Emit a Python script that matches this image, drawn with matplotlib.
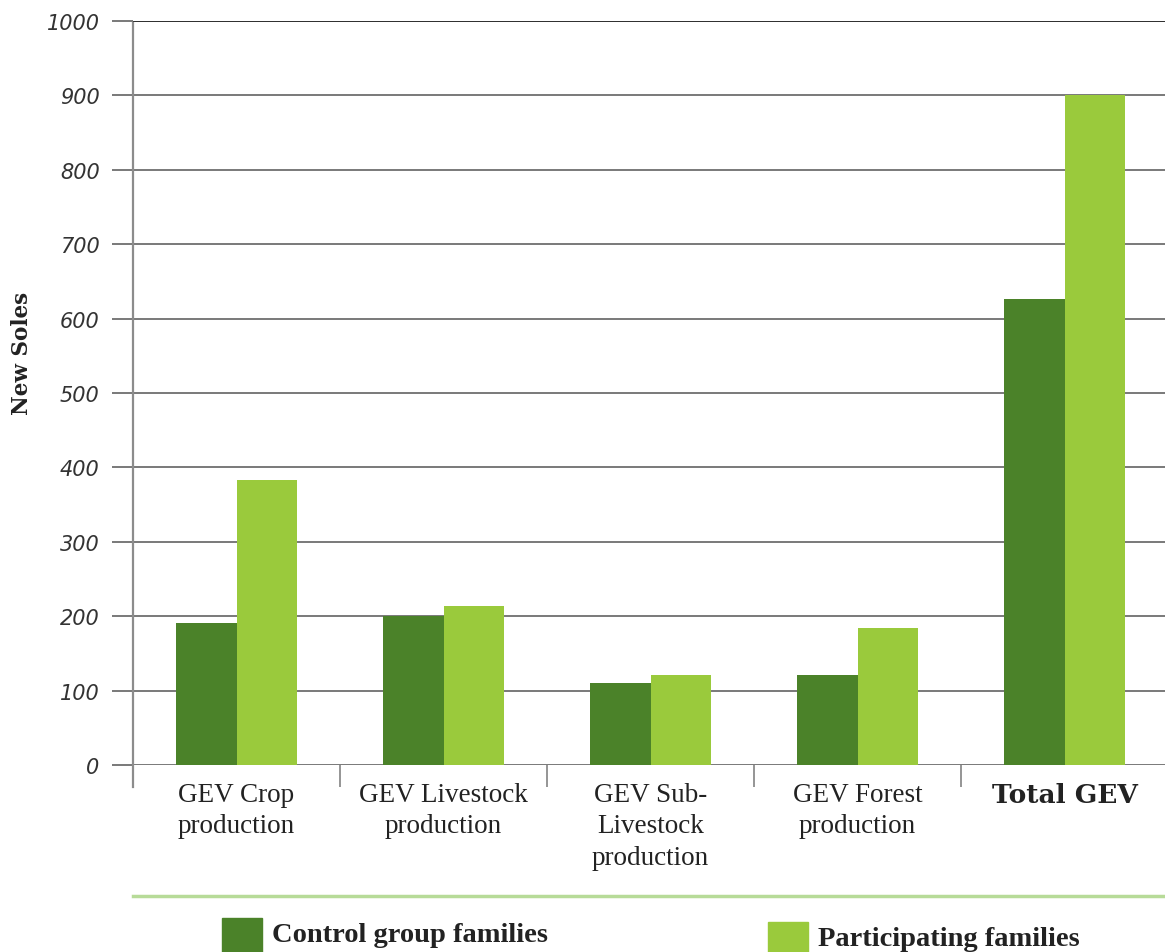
import matplotlib.pyplot as plt
from matplotlib.lines import Line2D
from matplotlib.patches import Rectangle
import numpy as np

categories = [
    "GEV Crop\nproduction",
    "GEV Livestock\nproduction",
    "GEV Sub-\nLivestock\nproduction",
    "GEV Forest\nproduction",
    "Total GEV",
]
control = [191, 200, 110, 121, 626]
participating = [383, 214, 121, 184, 900]
series_names = ["Control group families", "Participating families"]

DARK = "#4b8229"
LIGHT = "#9aca3c"
GRID = "#555555"
SPINE = "#8c8c8c"


def main():
    fig = plt.figure(figsize=(11.65, 9.53), dpi=100)
    W, H = 1165, 953
    ax = fig.add_axes([133 / W, 187 / H, 1035 / W, 744 / H])

    x = np.arange(len(categories))
    width = 0.29
    ax.bar(x - width / 2, control, width, color=DARK, zorder=3)
    ax.bar(x + width / 2, participating, width, color=LIGHT, zorder=3)

    ax.set_xlim(-0.5, len(categories) - 0.5)
    ax.set_ylim(0, 1000)
    ax.set_yticks(np.arange(0, 1001, 100))
    ax.yaxis.grid(True, color=GRID, linewidth=1.1, zorder=0)
    ax.set_axisbelow(True)
    for s in ax.spines.values():
        s.set_visible(False)
    # top line is drawn a bit darker
    ax.axhline(1000, color="#222222", linewidth=1.2, zorder=1)

    ax.tick_params(axis="y", length=15, width=1.1, color=GRID, pad=9,
                   labelsize=15, labelcolor="#333333")
    for lab in ax.get_yticklabels():
        lab.set_fontstyle("italic")

    # category separators below the baseline
    ax.set_xticks(x)
    ax.set_xticks(x[:-1] + 0.5, minor=True)
    ax.tick_params(axis="x", which="major", length=0, pad=12)
    ax.tick_params(axis="x", which="minor", length=16, width=1.3, color=SPINE)
    ax.set_xticklabels(categories, fontfamily="Liberation Serif", fontsize=19.5,
                       color="#222222", linespacing=1.35)
    last = ax.get_xticklabels()[-1]
    last.set_fontfamily("DejaVu Serif")
    last.set_fontweight("bold")
    last.set_fontsize(19)

    # left axis line running a little past the baseline
    ax.plot([-0.5, -0.5], [-30, 997], color=SPINE, linewidth=1.6,
            clip_on=False, zorder=4)

    fig.text(22 / W, 1 - 353 / H, "New Soles", rotation=90, ha="center",
             va="center", fontfamily="DejaVu Serif", fontweight="bold",
             fontsize=15.5, color="#222222")

    # legend area
    fig.add_artist(Line2D([133 / W, 1.0], [1 - 897 / H, 1 - 897 / H],
                          color="#b7db98", linewidth=2.5))
    fig.add_artist(Rectangle((222 / W, 0), 40 / W, 34 / H, color=DARK))
    fig.add_artist(Rectangle((768 / W, 0), 40 / W, 30 / H, color=LIGHT))
    fig.text(272 / W, 1 - 936 / H, series_names[0], ha="left", va="center",
             fontfamily="Liberation Serif", fontweight="bold", fontsize=20.5,
             color="#222222")
    fig.text(818 / W, 1 - 940 / H, series_names[1], ha="left", va="center",
             fontfamily="Liberation Serif", fontweight="bold", fontsize=20.5,
             color="#222222")

    fig.savefig("out.png", dpi=100)


if __name__ == "__main__":
    main()
